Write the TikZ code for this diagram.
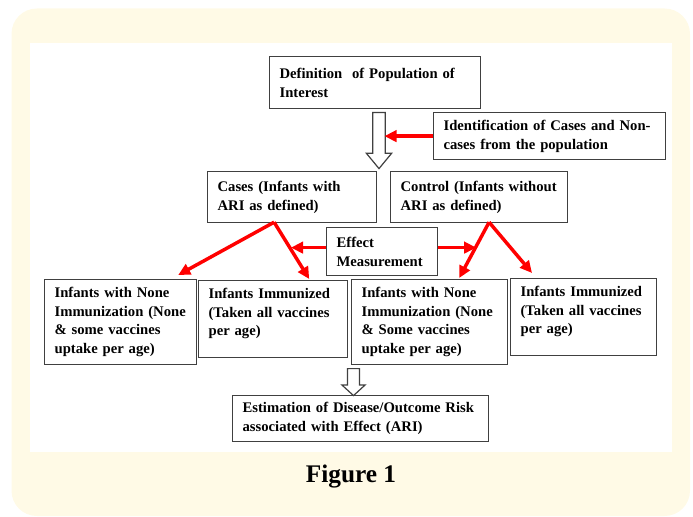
\documentclass[tikz,border=0pt]{standalone}
\usepackage{fontspec}
\setmainfont{Liberation Serif}
\usepackage{tikz}
\usetikzlibrary{arrows.meta,positioning,shapes.arrows}

\definecolor{paperYellow}{RGB}{255,250,230}
\definecolor{lineGray}{RGB}{64,64,64}
\definecolor{arrowRed}{RGB}{255,0,0}

\begin{document}
\begin{tikzpicture}[x=0.75pt,y=-0.75pt]
	\tikzstyle{box} = [rectangle, draw=lineGray, line width=0.9pt, anchor=north west, 
	align=left, inner xsep=7.5pt, inner ysep=3pt, font=\bfseries\fontsize{11}{14}\selectfont]
	\tikzstyle{hollow} = [single arrow, draw=lineGray, line width=0.9pt, fill=white, 
	rotate=-90, anchor=tail, inner xsep=0pt]
	\tikzstyle{arrow} = [draw=arrowRed, line width=2.6pt, -{Triangle[length=9pt,width=8.5pt]}]
	% frame
	\useasboundingbox (0,0) rectangle (693,517);
	\fill [paperYellow, rounded corners=19pt] (11.5,8.5) rectangle (690,516);
	\fill [white] (30,43) rectangle (672,452);
	% boxes
	\node (definition) [box, text width=143.25pt, minimum height=39pt] at (269,56) {Definition \ of Population of\\Interest};
	\node (ident) [box, text width=159pt, minimum height=35.25pt] at (433,112) {Identification of Cases and Non-\\cases from the population};
	\node (cases) [box, text width=111.75pt, minimum height=38.25pt] at (207,171) {Cases (Infants with\\ARI as defined)};
	\node (control) [box, text width=117.75pt, minimum height=38.25pt] at (390,171) {Control (Infants without\\ARI as defined)};
	\node (effect) [box, text width=68.25pt, minimum height=36pt] at (326,227) {Effect\\Measurement};
	\node (noneCases) [box, text width=99pt, minimum height=63.75pt] at (44,279) {Infants with None\\Immunization (None\\\& some vaccines\\uptake per age)};
	\node (immCases) [box, text width=96.75pt, minimum height=57.75pt, text depth=38.5pt] at (198,280) {Infants Immunized\\(Taken all vaccines\\per age)};
	\node (noneControl) [box, text width=102pt, minimum height=63.75pt] at (351,279) {Infants with None\\Immunization (None\\\& Some vaccines\\uptake per age)};
	\node (immControl) [box, text width=94.5pt, minimum height=57.75pt, text depth=38.5pt] at (510,278) {Infants Immunized\\(Taken all vaccines\\per age)};
	\node (estimation) [box, text width=177pt, minimum height=34.5pt] at (232,395) {Estimation of Disease/Outcome Risk\\associated with Effect (ARI)};
	\node (caption) at (351,477) {\bfseries\fontsize{19}{22}\selectfont Figure 1};
	% hollow arrows
	\node (popArrow) [hollow, minimum height=42pt, inner ysep=4.3pt, single arrow head extend=4.7pt, single arrow tip angle=79] at (379,112) {};
	\node (estArrow) [hollow, minimum height=20.25pt, inner ysep=4.1pt, single arrow head extend=4.1pt, single arrow tip angle=95] at (353.5,368) {};
	\coordinate (shaftEdge) at (384.5,136);
	% red arrows
	\draw [arrow] (ident.west) -- (ident.west -| shaftEdge);
	\draw [arrow] ([shift={(-18,-1)}]cases.south) -- ([shift={(-19,-4)}]noneCases.north east);
	\draw [arrow] ([shift={(-18,-1)}]cases.south) -- ([shift={(-39,-1)}]immCases.north east);
	\draw [arrow] ([shift={(0,-4)}]effect.west) -- ++(-35,0);
	\draw [arrow] ([shift={(0,-4)}]effect.east) -- ++(38,0);
	\draw [arrow] ([shift={(10,-1)}]control.south) -- ([shift={(-49,-1)}]noneControl.north east);
	\draw [arrow] ([shift={(10,-1)}]control.south) -- ([shift={(22,-5)}]immControl.north west);
\end{tikzpicture}
\end{document}
